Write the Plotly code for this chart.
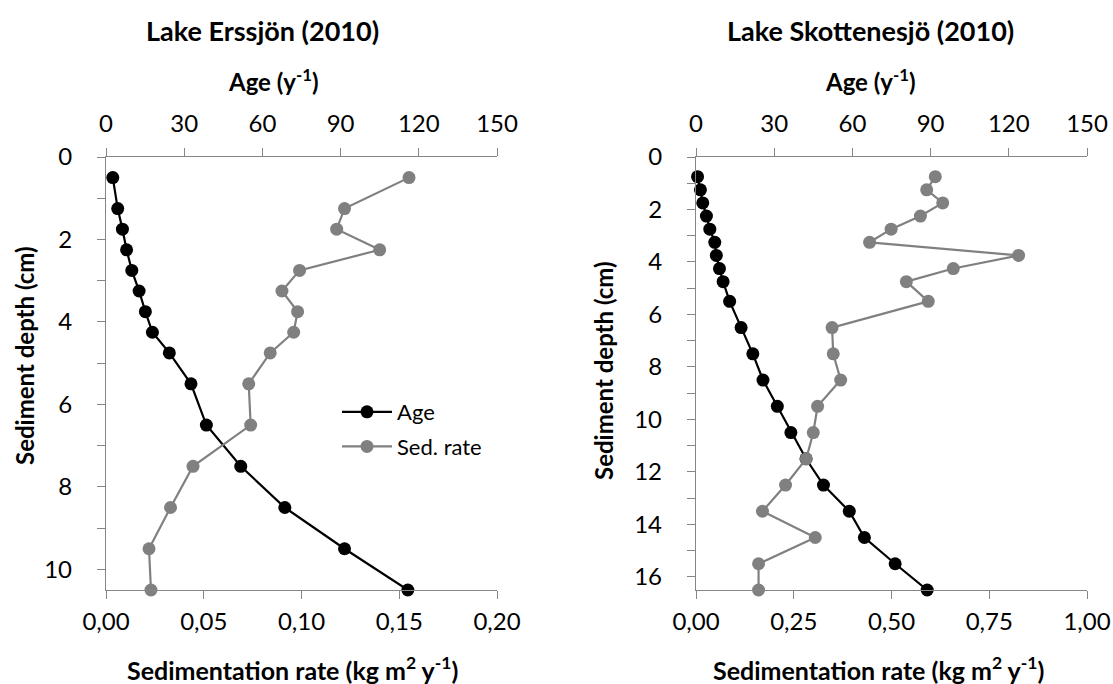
import plotly.graph_objects as go

W, H = 1113, 684

# ---- data ----
ers_depth = [0.5, 1.25, 1.75, 2.25, 2.75, 3.25, 3.75, 4.25, 4.75, 5.5, 6.5, 7.5, 8.5, 9.5, 10.5]
ers_age = [2.6, 4.5, 6.3, 7.9, 9.9, 12.7, 15.1, 17.8, 24.3, 32.6, 38.5, 51.7, 68.6, 91.5, 115.8]
ers_sed = [0.155, 0.122, 0.118, 0.140, 0.099, 0.090, 0.098, 0.096, 0.084, 0.073, 0.074, 0.0445, 0.033, 0.022, 0.023]

sko_depth = [0.75, 1.25, 1.75, 2.25, 2.75, 3.25, 3.75, 4.25, 4.75, 5.5, 6.5, 7.5, 8.5, 9.5,
             10.5, 11.5, 12.5, 13.5, 14.5, 15.5, 16.5]
sko_age = [0.6, 1.7, 2.6, 4.0, 5.3, 7.2, 7.8, 9.0, 10.4, 12.9, 17.3, 21.8, 25.7, 31.2,
           36.4, 42.2, 48.9, 58.8, 64.6, 76.4, 88.7]
sko_sed = [0.612, 0.590, 0.631, 0.574, 0.499, 0.444, 0.825, 0.658, 0.538, 0.594, 0.348, 0.351,
           0.370, 0.311, 0.300, 0.282, 0.229, 0.170, 0.305, 0.160, 0.160]

titles = ["Lake Erssjön (2010)", "Lake Skottenesjö (2010)"]
age_title = "Age (y<sup>-1</sup>)"
sed_title = "Sedimentation rate (kg m<sup>2</sup> y<sup>-1</sup>)"
depth_title = "Sediment depth (cm)"
age_ticks = [0, 30, 60, 90, 120, 150]
series_names = ["Age", "Sed. rate"]

FONT = "Lato"
AX = "#868686"
GRAY = "#808080"

def px(x):
    return x / W

def py(y):
    return 1 - y / H

fig = go.Figure()

# Age traces on base axes (drawn below), sed rate on overlaying axes (drawn above)
fig.add_trace(go.Scatter(x=ers_age, y=ers_depth, xaxis="x", yaxis="y", name=series_names[0],
                         mode="lines+markers", line=dict(color="black", width=2.2),
                         marker=dict(size=13, color="black"), cliponaxis=False,
                         legendgroup="a"))
fig.add_trace(go.Scatter(x=ers_sed, y=ers_depth, xaxis="x3", yaxis="y", name=series_names[1],
                         mode="lines+markers", line=dict(color=GRAY, width=2.2),
                         marker=dict(size=13, color=GRAY), cliponaxis=False,
                         legendgroup="b"))
fig.add_trace(go.Scatter(x=sko_age, y=sko_depth, xaxis="x2", yaxis="y2", name=series_names[0],
                         mode="lines+markers", line=dict(color="black", width=2.2),
                         marker=dict(size=13, color="black"), cliponaxis=False,
                         showlegend=False))
fig.add_trace(go.Scatter(x=sko_sed, y=sko_depth, xaxis="x4", yaxis="y2", name=series_names[1],
                         mode="lines+markers", line=dict(color=GRAY, width=2.2),
                         marker=dict(size=13, color=GRAY), cliponaxis=False,
                         showlegend=False))

tickfont = dict(family=FONT, size=24, color="black")
common = dict(showline=True, linecolor=AX, linewidth=1.3, ticks="outside", ticklen=8,
              tickcolor=AX, tickwidth=1.3, showgrid=False, zeroline=False, tickfont=tickfont,
              automargin=False)
minor = dict(dtick=1, tick0=0, ticks="outside", ticklen=8, tickcolor=AX, tickwidth=1.3)

dom_l = [px(106), px(497)]
dom_r = [px(696), px(1087)]
dom_y = [py(590), py(157)]

fig.update_layout(
    width=W, height=H,
    margin=dict(l=0, r=0, t=0, b=0),
    plot_bgcolor="white", paper_bgcolor="white",
    separators=", ",
    font=dict(family=FONT, size=22, color="black"),
    xaxis=dict(domain=dom_l, anchor="y", side="top", range=[0, 150], tickvals=age_ticks,
               ticklabelstandoff=6, **common),
    xaxis3=dict(overlaying="x", anchor="y", side="bottom", range=[0, 0.2], dtick=0.05,
                tick0=0, tickformat=".2f", ticklabelstandoff=2, **common),
    yaxis=dict(domain=dom_y, anchor="x3", range=[10.5, 0], tickmode="linear", tick0=0, dtick=2,
               minor=minor, ticklabelstandoff=20, **common),
    xaxis2=dict(domain=dom_r, anchor="y2", side="top", range=[0, 150], tickvals=age_ticks,
                ticklabelstandoff=6, **common),
    xaxis4=dict(overlaying="x2", anchor="y2", side="bottom", range=[0, 1.0], dtick=0.25,
                tick0=0, tickformat=".2f", ticklabelstandoff=2, **common),
    yaxis2=dict(domain=dom_y, anchor="x4", range=[16.5, 0], tickmode="linear", tick0=0, dtick=2,
                minor=minor, ticklabelstandoff=20, **common),
    legend=dict(x=px(337), y=py(391), xanchor="left", yanchor="top",
                bgcolor="rgba(0,0,0,0)", font=dict(family=FONT, size=22),
                itemwidth=50, tracegroupgap=3),
)

def ann(text, x, y, size, bold=False, angle=0):
    if bold:
        text = "<b>" + text + "</b>"
    fig.add_annotation(text=text, x=px(x), y=py(y), xref="paper", yref="paper",
                       xanchor="center", yanchor="middle", showarrow=False, textangle=angle,
                       font=dict(family=FONT, size=size, color="black"))

ann(titles[0], 262, 31, 27, bold=True)
ann(titles[1], 870, 31, 27, bold=True)
ann(age_title, 273, 80, 24, bold=True)
ann(age_title, 870, 80, 24, bold=True)
ann(sed_title, 292, 668, 25, bold=True)
ann(sed_title, 878, 668, 25, bold=True)
ann(depth_title, 24, 356, 24, bold=True, angle=-90)
ann(depth_title, 603, 371, 24, bold=True, angle=-90)

fig.write_html("out.html")
